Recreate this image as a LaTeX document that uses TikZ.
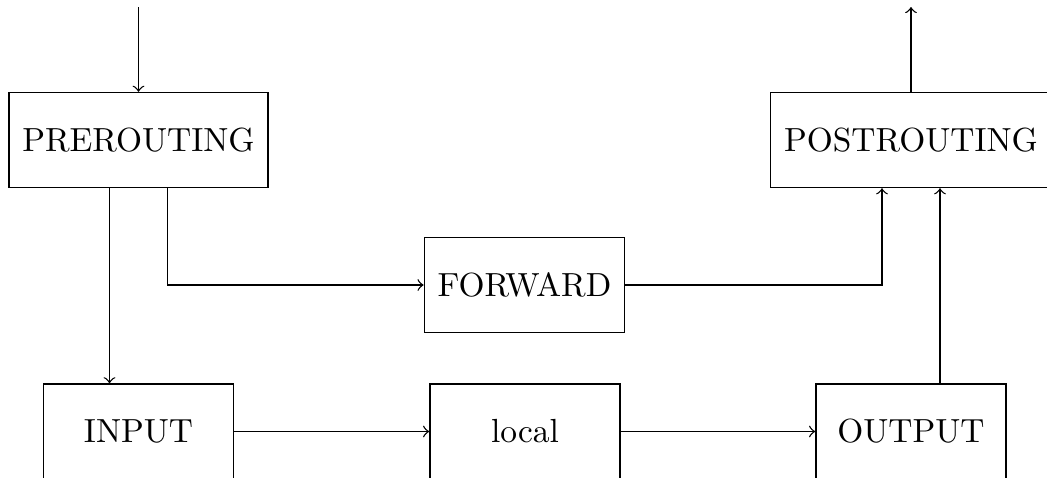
\documentclass[tikz,border=0pt]{standalone}
\usetikzlibrary{calc}
\tikzset{
  chain/.style={draw, minimum height=1cm, minimum width=2cm, inner sep=4pt},
  flow/.style={->},
}
\begin{document}
\begin{tikzpicture}[x=0.0105062cm, y=-0.0105062cm]
  \useasboundingbox (0,0) rectangle (1047,477);
  % hooks
  \node[chain] (pre)    at (138.5,140) {PREROUTING};
  \node[chain] (post)   at (911,140)   {POSTROUTING};
  \node[chain] (fwd)    at (524.5,285) {FORWARD};
  \node[chain] (input)  at (138.5,431.5) {INPUT};
  \node[chain] (local)  at (525,431.5)   {local};
  \node[chain] (output) at (911,431.5)   {OUTPUT};
  % entry and exit points
  \coordinate (in)  at (138.5,7);
  \coordinate (out) at (911,7);
  % packet paths
  \draw[flow] (in) -- (pre.north);
  \draw[flow] ($(pre.south)+(-29,0)$) -- ($(input.north)+(-29,0)$);
  \draw[flow] ($(pre.south)+(29,0)$) |- (fwd.west);
  \draw[flow] (fwd.east) -| ($(post.south)+(-29,0)$);
  \draw[flow] (input.east) -- (local.west);
  \draw[flow] (local.east) -- (output.west);
  \draw[flow] ($(output.north)+(29,0)$) -- ($(post.south)+(29,0)$);
  \draw[flow] (post.north) -- (out);
\end{tikzpicture}
\end{document}
